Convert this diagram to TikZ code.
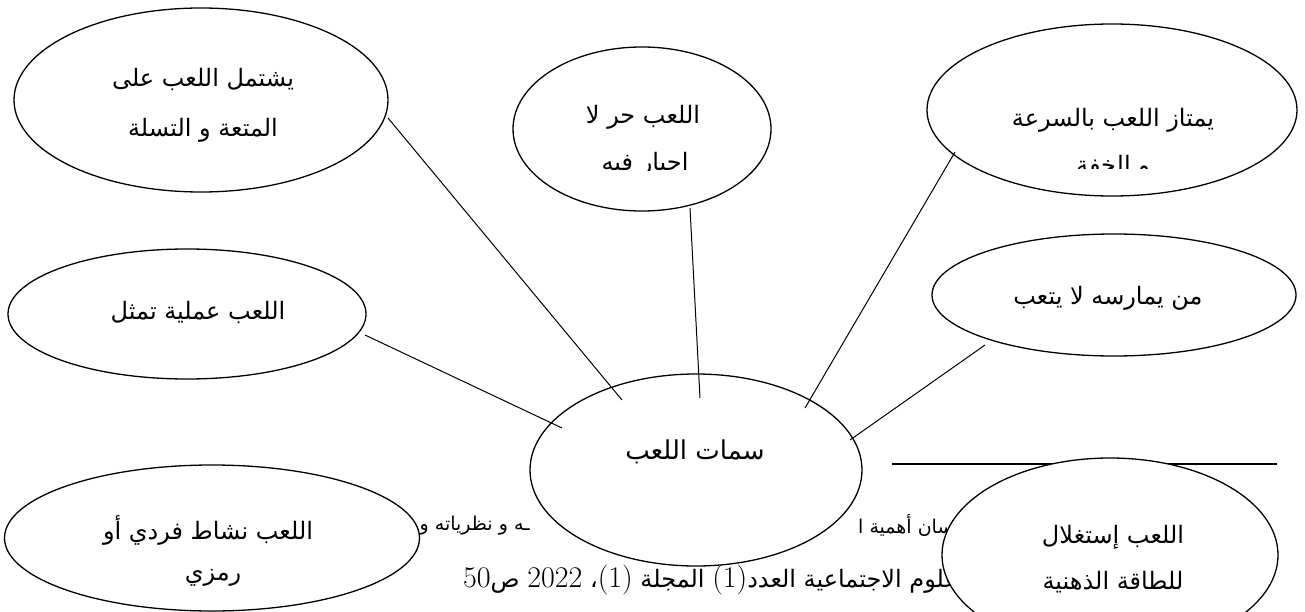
\documentclass[tikz,border=0pt]{standalone}
\usepackage{fontspec}
\usetikzlibrary{shapes.geometric}
\newfontfamily\arabicfont[Script=Arabic]{DejaVu Sans}
\TeXXeTstate=1
\newcommand\ar[1]{{\arabicfont\beginR #1\endR}}
\newcommand\lat[1]{\beginL{\rmfamily\fontsize{30}{32}\selectfont #1}\endL}
\begin{document}
\begin{tikzpicture}[x=1pt,y=-1pt,
  oval/.style={ellipse, draw, line width=1.3pt, fill=white, inner sep=0pt},
  lbl/.style={font=\fontsize{24}{28}\selectfont, inner sep=0pt},
  fnA/.style={font=\fontsize{19}{22}\selectfont, inner sep=0pt},
  fnB/.style={font=\fontsize{24}{28}\selectfont, inner sep=0pt},
  conn/.style={line width=1pt}]
\useasboundingbox (0,0) rectangle (1305,612);
\clip (0,0) rectangle (1305,612);
% footnote (behind the ovals)
\node[fnA, anchor=east] (f1a) at (530,526) {\ar{ـه و نظرياته و}};
\node[fnA, anchor=west] (f1b) at (858,526) {\ar{إحسان أهمية ا}};
\node[fnB, anchor=west] (f2) at (463,580) {\ar{علوم الاجتماعية العدد\lat{(1)} المجلة \lat{(1)}، \lat{2022} ص\lat{50}}};
\coordinate (r1) at (892,464);
\coordinate (r2) at (1277,464);
\draw[line width=2pt] (r1) -- (r2);
% ovals
\node[oval, minimum width=374pt, minimum height=184pt] (e1) at (201,100) {};
\node[oval, minimum width=258pt, minimum height=164pt] (e2) at (642,129) {};
\node[oval, minimum width=370pt, minimum height=172pt] (e3) at (1112,110) {};
\node[oval, minimum width=358pt, minimum height=130pt] (e4) at (187,314) {};
\node[oval, minimum width=364pt, minimum height=122pt] (e5) at (1114,295) {};
\node[oval, minimum width=332pt, minimum height=192pt] (e6) at (696,470) {};
\node[oval, minimum width=415pt, minimum height=146pt] (e7) at (212,538) {};
\node[oval, minimum width=336pt, minimum height=194pt] (e8) at (1110,555) {};
% texts
\node[lbl] (t1a) at (203,79) {\ar{يشتمل اللعب على}};
\node[lbl] (t1b) at (203,130) {\ar{المتعة و التسلة}};
\node[lbl] (t2a) at (643,117) {\ar{اللعب حر لا}};
\begin{scope}
  \clip (520,140) rectangle (770,171);
  \node[lbl, anchor=base] (t2b) at (645,171) {\ar{اجبار فيه}};
\end{scope}
\node[lbl] (t3a) at (1113,120) {\ar{يمتاز اللعب بالسرعة}};
\begin{scope}
  \clip (930,140) rectangle (1300,169);
  \node[lbl] (t3b) at (1113,167) {\ar{و الخفة}};
\end{scope}
\node[lbl] (t4) at (198,312) {\ar{اللعب عملية تمثل}};
\node[lbl] (t5) at (1108,298) {\ar{من يمارسه لا يتعب}};
\node[lbl, font=\fontsize{26}{30}\selectfont] (t6) at (695,452) {\ar{سمات اللعب}};
\node[lbl] (t7a) at (208,530) {\ar{اللعب نشاط فردي أو}};
\node[lbl] (t7b) at (213,578) {\ar{رمزي}};
\node[lbl] (t8a) at (1113,537) {\ar{اللعب إستغلال}};
\node[lbl] (t8b) at (1113,582) {\ar{للطاقة الذهنية}};
% connectors
\coordinate (c1s) at (388,118); \coordinate (c1e) at (622,400);
\coordinate (c2s) at (690,208); \coordinate (c2e) at (700,398);
\coordinate (c3s) at (955,152); \coordinate (c3e) at (805,408);
\coordinate (c4s) at (365,335); \coordinate (c4e) at (562,428);
\coordinate (c5s) at (985,345); \coordinate (c5e) at (850,440);
\draw[conn] (c1s) -- (c1e);
\draw[conn] (c2s) -- (c2e);
\draw[conn] (c3s) -- (c3e);
\draw[conn] (c4s) -- (c4e);
\draw[conn] (c5s) -- (c5e);
\end{tikzpicture}
\end{document}
